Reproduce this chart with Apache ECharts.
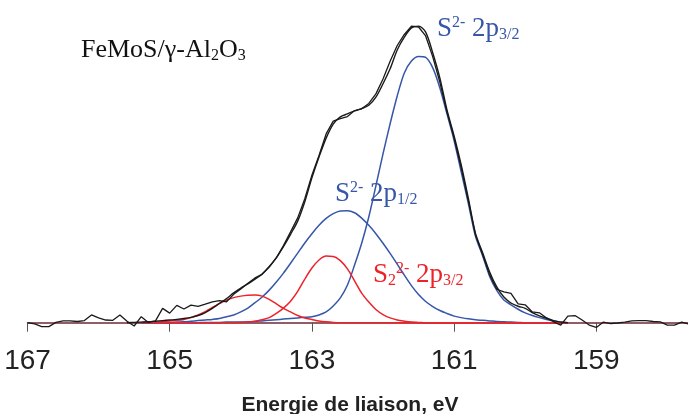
<!DOCTYPE html>
<html><head><meta charset="utf-8">
<script src="https://cdn.jsdelivr.net/npm/echarts/dist/echarts.min.js"></script>
<style>html,body{margin:0;padding:0;background:#fff}#c{width:688px;height:414px}</style>
</head><body><div id="c"></div>
<script>
// ---- data (binding energy in eV, intensity in arbitrary units) ----
const tickLabels = [167, 165, 163, 161, 159];

const compEnergy = [165.4,165.3,165.2,165.1,165.0,164.9,164.8,164.7,164.6,164.5,164.4,164.3,164.2,164.1,164.0,163.9,163.8,163.7,163.6,163.5,163.4,163.3,163.2,163.1,163.0,162.9,162.8,162.7,162.6,162.5,162.4,162.3,162.2,162.1,162.0,161.9,161.8,161.7,161.6,161.5,161.4,161.3,161.2,161.1,161.0,160.9,160.8,160.7,160.6,160.5,160.4,160.3,160.2,160.1,160.0,159.9,159.8,159.7,159.6,159.5,159.4];

const s2_2p12 = [0,0,0.1,0.1,0.1,0.2,0.3,0.5,0.7,0.9,1.1,1.4,2.0,2.6,3.6,4.9,6.7,8.6,10.9,13.6,16.6,19.9,23.3,26.7,29.8,32.6,34.9,36.5,37.4,37.5,36.8,35.0,32.6,29.8,26.6,23.2,19.6,15.9,12.4,9.4,7.1,5.4,4.1,3.1,2.2,1.7,1.3,1.0,0.8,0.6,0.4,0.3,0.2,0.1,0,0,0,0,0,0,0];

const s2_2p32 = [0,0,0,0,0,0,0,0,0,0.1,0.1,0.1,0.2,0.2,0.2,0.3,0.4,0.6,0.8,1.0,1.2,1.4,1.6,1.8,2.0,2.6,3.6,5.6,8.3,12.6,19.3,26.6,35.4,45.8,56.5,66.6,75.9,83.6,87.6,89.1,88.8,85.3,78.6,69.9,61.0,50.5,40.0,29.0,22.5,15.5,10.8,7.6,6.0,4.5,3.3,2.4,1.7,1.1,0.6,0.2,0];

const s22_2p32 = [0,0,0,0,0,0,0,0,0,0,0,0,0,0,0.1,0.2,0.5,1.0,1.7,3.1,4.9,7.2,10.5,14.6,18.3,21.0,22.3,22.2,20.8,18.0,14.0,9.9,6.9,4.4,2.7,1.6,0.9,0.5,0.2,0.1,0,0,0,0,0,0,0,0,0,0,0,0,0,0,0,0,0,0,0,0,0];

const s22_2p12 = [0.1,0.2,0.2,0.4,0.6,0.8,1.1,1.7,2.6,3.7,5.1,6.4,7.6,8.4,8.9,9.2,9.3,8.9,7.8,6.3,4.8,3.6,2.4,1.6,1.1,0.6,0.3,0.1,0,0,0,0,0,0,0,0,0,0,0,0,0,0,0,0,0,0,0,0,0,0,0,0,0,0,0,0,0,0,0,0,0];

const envEnergy = [165.6,165.5,165.4,165.3,165.2,165.1,165.0,164.9,164.8,164.7,164.6,164.5,164.4,164.3,164.2,164.1,164.0,163.9,163.8,163.7,163.6,163.5,163.4,163.3,163.2,163.1,163.0,162.9,162.8,162.7,162.6,162.5,162.4,162.3,162.2,162.1,162.0,161.9,161.8,161.7,161.6,161.5,161.4,161.3,161.2,161.1,161.0,160.9,160.8,160.7,160.6,160.5,160.4,160.3,160.2,160.1,160.0,159.9,159.8,159.7,159.6,159.5,159.4];

const envelope = [0,0.1,0.2,0.3,0.5,0.7,0.9,1.1,1.4,1.8,2.4,3.4,4.8,6.5,8.1,10.0,11.6,13.0,14.6,16.3,18.8,21.8,25.5,29.6,34.0,40.5,48.5,55.5,61.8,66.5,68.9,69.9,70.9,71.7,72.8,75.5,80.0,85.0,91.3,95.6,98.7,99.3,97.3,90.3,81.9,71.2,62.5,52.8,41.7,30.0,23.5,17.0,12.0,8.6,6.6,5.5,4.8,3.4,2.3,1.5,0.7,0.2,0];

const rawEnergy = [167.0,166.9,166.8,166.7,166.6,166.5,166.4,166.3,166.2,166.1,166.0,165.9,165.8,165.7,165.6,165.5,165.4,165.3,165.2,165.1,165.0,164.9,164.8,164.7,164.6,164.5,164.4,164.3,164.2,164.1,164.0,163.9,163.8,163.7,163.6,163.5,163.4,163.3,163.2,163.1,163.0,162.9,162.8,162.7,162.6,162.5,162.4,162.3,162.2,162.1,162.0,161.9,161.8,161.7,161.6,161.5,161.4,161.3,161.2,161.1,161.0,160.9,160.8,160.7,160.6,160.5,160.4,160.3,160.2,160.1,160.0,159.9,159.8,159.7,159.6,159.5,159.4,159.3,159.2,159.1,159.0,158.9,158.8,158.7,158.6,158.5,158.4,158.3,158.2,158.1,158.0,157.9,157.8,157.7];

const rawCounts = [0,-0.4,-1.3,-1.3,0.1,0.6,0.6,0.4,0.7,2.6,1.6,0.9,0.8,2.6,0.5,-1.1,2.0,0.1,0.6,4.8,3.2,5.8,4.6,5.9,5.5,6.2,7.0,7.4,7.0,9.5,11.3,13.2,15.0,16.2,18.6,21.7,25.8,30.4,35.1,41.5,49.4,56.0,63.2,67.5,68.3,69.0,71.0,71.6,73.4,76.6,81.6,87.5,92.8,96.5,99.3,99.0,96.0,89.0,80.5,70.5,61.8,51.8,40.8,29.4,22.8,16.0,11.2,10.3,9.8,6.3,6.0,3.6,3.3,1.6,0.3,-0.8,2.2,2.4,0.9,-0.8,-1.6,0.2,-0.3,-0.1,0.2,0.6,0.7,0.7,0.4,0.3,-0.8,-0.8,0.2,-0.4];

// ---- build ----
const pairs = (xs, ys) => xs.map((x, i) => [x, ys[i]]);
const BLUE = '#3656a8', RED = '#ee2229', BLACK = '#1a1a1a';

function comp(data, color, z) {
  return { type: 'line', data, showSymbol: false, smooth: 0.3, silent: true, clip: false, z,
    lineStyle: { color, width: 1.5 } };
}

const serif = '"Liberation Serif", "Times New Roman", serif';
const sans = '"Liberation Sans", Arial, sans-serif';
function richStyles(color, main, small) {
  return {
    m: { fontFamily: serif, fontSize: main, lineHeight: 28, fill: color, verticalAlign: 'middle' },
    p: { fontFamily: serif, fontSize: small, lineHeight: 16, fill: color, verticalAlign: 'top' },
    b: { fontFamily: serif, fontSize: small, lineHeight: 13, fill: color, verticalAlign: 'bottom' }
  };
}

const chart = echarts.init(document.getElementById('c'), null, { renderer: 'canvas' });
chart.setOption({
  animation: false,
  backgroundColor: '#fff',
  grid: { left: 27.5, right: -50.5, top: 24, bottom: 91.3, containLabel: false, outerBoundsMode: 'none' },
  xAxis: {
    type: 'value', inverse: true, min: 157, max: 167, interval: 2,
    name: 'Energie de liaison, eV', nameLocation: 'middle', nameGap: 72,
    nameTextStyle: { fontFamily: sans, fontSize: 21, fontWeight: 'bold', color: '#222', padding: [0, 66, 0, 0] },
    axisLine: { onZero: false, lineStyle: { color: '#6d2a33', width: 1.5 } },
    axisTick: { show: true, inside: false, length: 9, lineStyle: { color: '#555', width: 1 } },
    axisLabel: { margin: 25, fontFamily: sans, fontSize: 28, color: '#222',
      formatter: v => (tickLabels.indexOf(v) >= 0 ? String(v) : '') },
    splitLine: { show: false }
  },
  yAxis: { type: 'value', min: 0, max: 100, show: false, splitLine: { show: false } },
  series: [
    comp(pairs(compEnergy, s2_2p12), BLUE, 2),
    comp(pairs(compEnergy, s2_2p32), BLUE, 2),
    comp(pairs(compEnergy, s22_2p12), RED, 3),
    comp(pairs(compEnergy, s22_2p32), RED, 3),
    { type: 'line', data: pairs(envEnergy, envelope), showSymbol: false, smooth: 0.3, silent: true, clip: false, z: 4,
      lineStyle: { color: BLACK, width: 1.4 } },
    { type: 'line', data: pairs(rawEnergy, rawCounts), showSymbol: false, smooth: false, silent: true, clip: false, z: 5,
      lineStyle: { color: BLACK, width: 1.3 } }
  ],
  graphic: [
    { type: 'text', x: 81, y: 37, z: 10, silent: true,
      style: { text: '{m|FeMoS/γ-Al}{b|2}{m|O}{b|3}', rich: {
        m: { fontFamily: serif, fontSize: 26, lineHeight: 27, fill: '#111', verticalAlign: 'middle' },
        b: { fontFamily: serif, fontSize: 16, lineHeight: 16, fill: '#111', verticalAlign: 'bottom' } },
        align: 'left', verticalAlign: 'top' } },
    { type: 'text', x: 437, y: 14.7, z: 10, silent: true,
      style: { text: '{m|S}{p|2-}{m| 2p}{b|3/2}', rich: richStyles(BLUE, 27, 16), align: 'left', verticalAlign: 'top' } },
    { type: 'text', x: 335, y: 180, z: 10, silent: true,
      style: { text: '{m|S}{p|2-}{m| 2p}{b|1/2}', rich: richStyles(BLUE, 27, 16), align: 'left', verticalAlign: 'top' } },
    { type: 'text', x: 373, y: 261, z: 10, silent: true,
      style: { text: '{m|S}{b|2}{p|2-}{m| 2p}{b|3/2}', rich: richStyles(RED, 27, 16), align: 'left', verticalAlign: 'top' } }
  ]
});
</script>
</body></html>
